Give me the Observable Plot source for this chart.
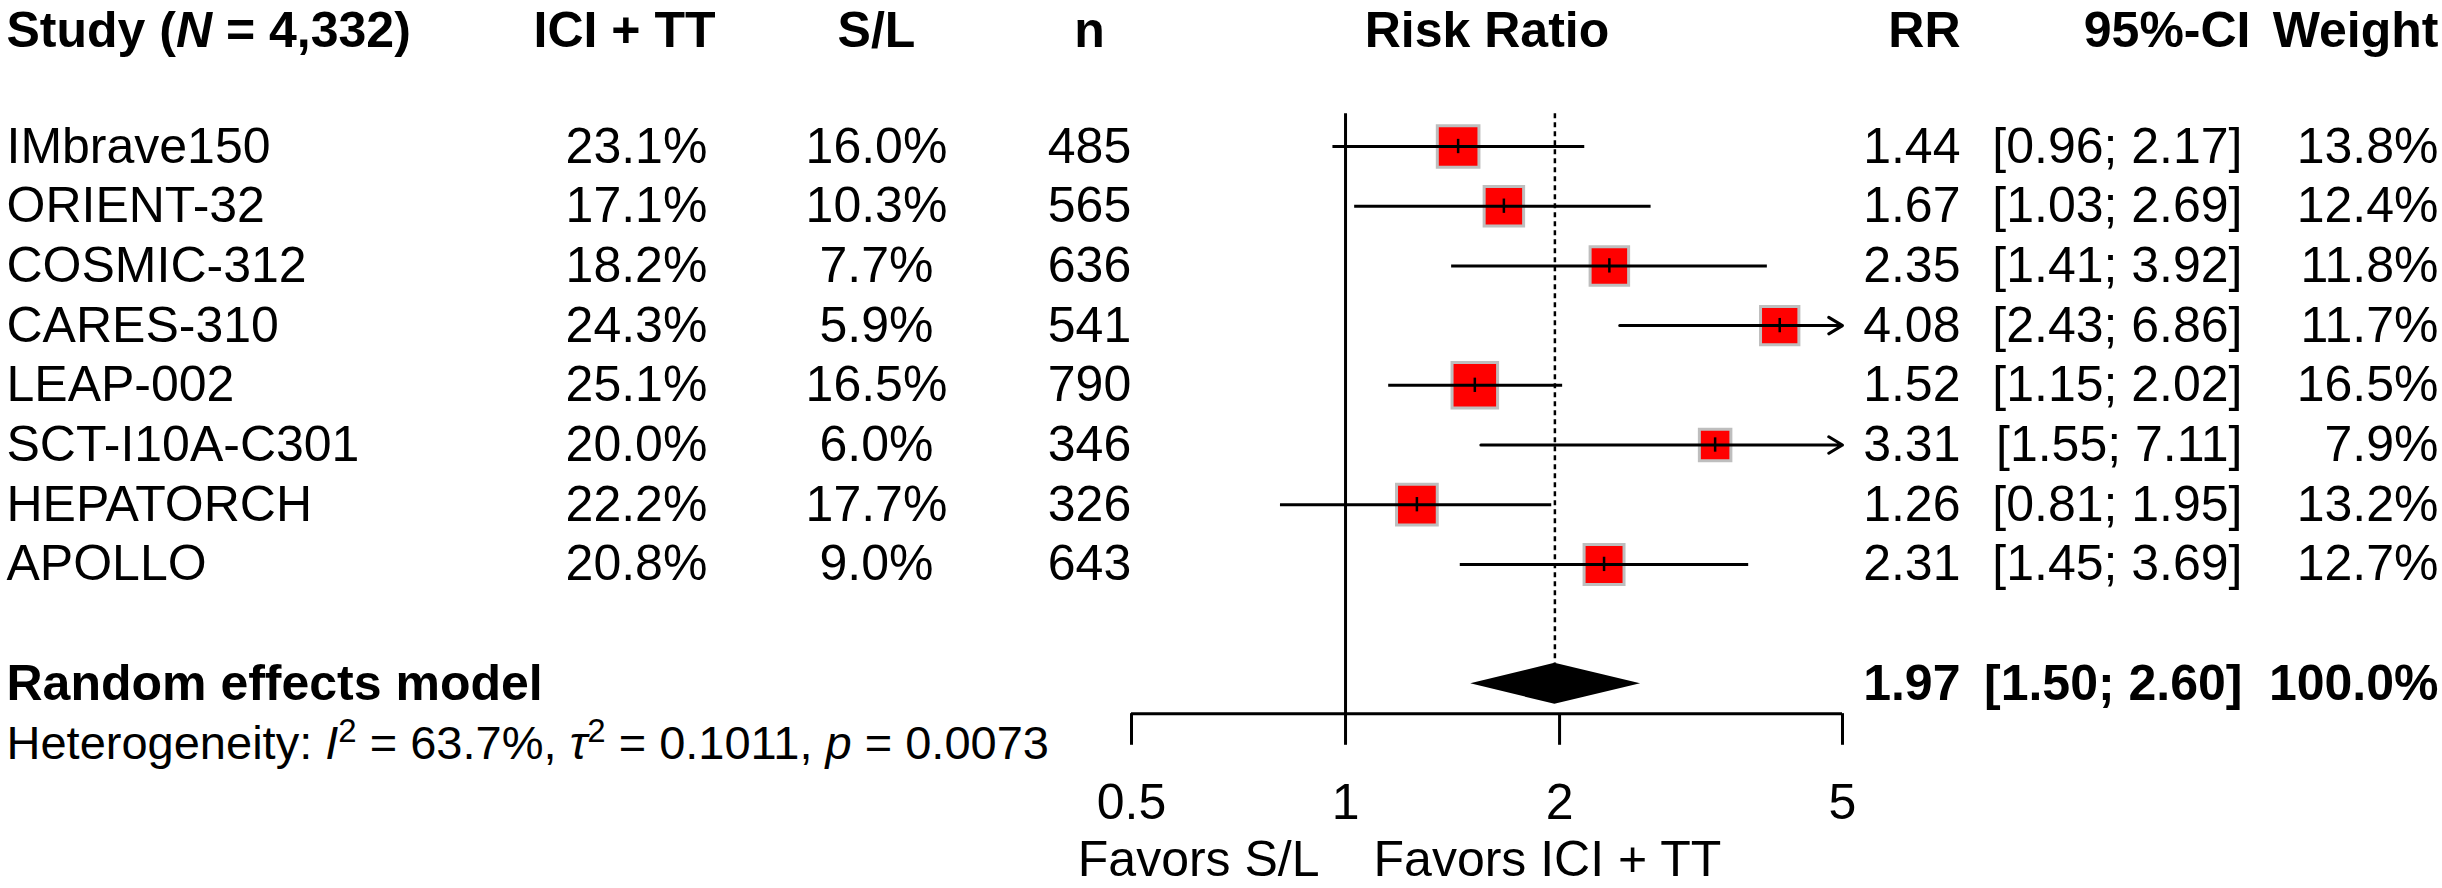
<!DOCTYPE html>
<html><head><meta charset="utf-8">
<script src="https://cdn.jsdelivr.net/npm/d3@7"></script>
<script src="https://cdn.jsdelivr.net/npm/@observablehq/plot@0.6"></script>
<style>html,body{margin:0;padding:0;background:#fff;} #chart svg{display:block;}</style>
</head><body><div id="chart"></div>
<script>
// ---------- data ----------
const studies   = ["IMbrave150","ORIENT-32","COSMIC-312","CARES-310","LEAP-002","SCT-I10A-C301","HEPATORCH","APOLLO"];
const iciPct    = [23.1,17.1,18.2,24.3,25.1,20.0,22.2,20.8];
const slPct     = [16.0,10.3,7.7,5.9,16.5,6.0,17.7,9.0];
const nPatients = [485,565,636,541,790,346,326,643];
const rrValues  = [1.44,1.67,2.35,4.08,1.52,3.31,1.26,2.31];
const ciLower   = [0.96,1.03,1.41,2.43,1.15,1.55,0.81,1.45];
const ciUpper   = [2.17,2.69,3.92,6.86,2.02,7.11,1.95,3.69];
const weights   = [13.8,12.4,11.8,11.7,16.5,7.9,13.2,12.7];

const pooledLabel = "Random effects model";
const pooledRR = 1.97, pooledLower = 1.50, pooledUpper = 2.60, pooledWeight = 100.0;
const totalN = 4332;
const hetI2 = 63.7, hetTau2 = 0.1011, hetP = 0.0073;

const headers = ["Study (N = 4,332)","ICI + TT","S/L","n","Risk Ratio","RR","95%-CI","Weight"];
const axisTicks = [0.5, 1, 2, 5];
const xLimits = [0.5, 5];
const favorsLabels = ["Favors S/L", "Favors ICI + TT"];

// ---------- layout (rows / pixel columns) ----------
const ROW_H = 59.7, ROW0 = 26.6, NROWS = 14;
const HEADER_ROW = 0.06, FIRST_STUDY_ROW = 2, POOLED_ROW = 11, HET_ROW = 12, AXIS_ROW = 11.5, TICKLAB_ROW = 13, FAVORS_ROW = 13.95;
const REF_TOP = 1.45, TICK_LEN = 0.53, DIAMOND_H = 0.343, EST_TICK = 0.12;
const COL = {study: 6, ici: 636, sl: 876, n: 1089, rr: 1960, ci: 2242, ciHead: 2250, wt: 2438, iciHead: 624};
const FS = 50, FS_HET = 47;

const rows = studies.map((s, i) => ({
  study: s, ici: iciPct[i], sl: slPct[i], n: nPatients[i],
  rr: rrValues[i], lo: ciLower[i], hi: ciUpper[i], w: weights[i], row: FIRST_STUDY_ROW + i
}));
const fmtPct = v => v.toFixed(1) + "%";
const fmt2 = v => v.toFixed(2);
const fmtCI = (lo, hi) => `[${fmt2(lo)}; ${fmt2(hi)}]`;

const diamond = [
  {x: pooledLower, ya: POOLED_ROW, yb: POOLED_ROW},
  {x: pooledRR, ya: POOLED_ROW - DIAMOND_H, yb: POOLED_ROW + DIAMOND_H},
  {x: pooledUpper, ya: POOLED_ROW, yb: POOLED_ROW}
];

const colText = (data, opts) => Plot.text(data, {frameAnchor: "left", fontSize: FS, fill: "black", ...opts});
const header = (i, dx, anchor) => colText([headers[i]], {y: () => HEADER_ROW, text: d => d, dx, textAnchor: anchor, fontWeight: "bold"});

const plot = Plot.plot({
  width: 2442, height: 888,
  marginTop: 0, marginBottom: 0, marginLeft: 0, marginRight: 0,
  style: {fontFamily: "Arial, 'Liberation Sans', sans-serif", fontSize: "50px", background: "white", color: "black"},
  x: {type: "log", domain: xLimits, range: [1131, 1842], axis: null},
  y: {domain: [0, NROWS], range: [ROW0, ROW0 + NROWS * ROW_H], axis: null},
  r: {type: "sqrt", domain: [0, d3.max(weights)], range: [0, 25.7]},
  marks: [
    // headers
    header(0, COL.study, "start"),
    header(1, COL.iciHead, "middle"),
    header(2, COL.sl, "middle"),
    header(3, COL.n, "middle"),
    Plot.text([headers[4]], {x: () => Math.sqrt(xLimits[0] * xLimits[1]), y: () => HEADER_ROW, text: d => d, fontSize: FS, fontWeight: "bold", fill: "black"}),
    header(5, COL.rr, "end"),
    header(6, COL.ciHead, "end"),
    header(7, COL.wt, "end"),
    // reference lines
    Plot.ruleX([1], {x: d => d, y1: REF_TOP, y2: AXIS_ROW, stroke: "black", strokeWidth: 3}),
    Plot.ruleX([pooledRR], {x: d => d, y1: REF_TOP, y2: POOLED_ROW - DIAMOND_H, stroke: "black", strokeWidth: 2.5, strokeDasharray: "5,4"}),
    // squares
    Plot.dot(rows, {x: "rr", y: "row", r: "w", symbol: "square", fill: "#FF0000", stroke: "#BEBEBE", strokeWidth: 3}),
    // CI lines
    Plot.ruleY(rows.filter(d => d.hi <= xLimits[1]), {y: "row", x1: "lo", x2: "hi", stroke: "black", strokeWidth: 3}),
    Plot.arrow(rows.filter(d => d.hi > xLimits[1]), {x1: "lo", x2: () => xLimits[1], y1: "row", y2: "row", stroke: "black", strokeWidth: 3, headAngle: 62, headLength: 8}),
    Plot.ruleX(rows, {x: "rr", y1: d => d.row - EST_TICK, y2: d => d.row + EST_TICK, stroke: "black", strokeWidth: 2.5}),
    // diamond
    Plot.areaY(diamond, {x: "x", y1: "ya", y2: "yb", fill: "black", curve: "linear"}),
    // axis
    Plot.ruleY([AXIS_ROW], {y: d => d, x1: xLimits[0], x2: xLimits[1], stroke: "black", strokeWidth: 3}),
    Plot.ruleX(axisTicks, {x: d => d, y1: AXIS_ROW, y2: AXIS_ROW + TICK_LEN, stroke: "black", strokeWidth: 3}),
    Plot.text(axisTicks, {x: d => d, y: () => TICKLAB_ROW, text: d => String(d), fontSize: FS, fill: "black"}),
    Plot.text([favorsLabels[0]], {x: () => 1, y: () => FAVORS_ROW, text: d => d, textAnchor: "end", dx: -26, fontSize: FS, fill: "black"}),
    Plot.text([favorsLabels[1]], {x: () => 1, y: () => FAVORS_ROW, text: d => d, textAnchor: "start", dx: 28, fontSize: FS, fill: "black"}),
    // study columns
    colText(rows, {y: "row", text: "study", dx: COL.study, textAnchor: "start"}),
    colText(rows, {y: "row", text: d => fmtPct(d.ici), dx: COL.ici, textAnchor: "middle"}),
    colText(rows, {y: "row", text: d => fmtPct(d.sl), dx: COL.sl, textAnchor: "middle"}),
    colText(rows, {y: "row", text: d => String(d.n), dx: COL.n, textAnchor: "middle"}),
    colText(rows, {y: "row", text: d => fmt2(d.rr), dx: COL.rr, textAnchor: "end"}),
    colText(rows, {y: "row", text: d => fmtCI(d.lo, d.hi), dx: COL.ci, textAnchor: "end"}),
    colText(rows, {y: "row", text: d => fmtPct(d.w), dx: COL.wt, textAnchor: "end"}),
    // pooled row
    colText([pooledLabel], {y: () => POOLED_ROW, text: d => d, dx: COL.study, textAnchor: "start", fontWeight: "bold"}),
    colText([pooledRR], {y: () => POOLED_ROW, text: d => fmt2(d), dx: COL.rr, textAnchor: "end", fontWeight: "bold"}),
    colText([[pooledLower, pooledUpper]], {y: () => POOLED_ROW, text: d => fmtCI(d[0], d[1]), dx: COL.ci, textAnchor: "end", fontWeight: "bold"}),
    colText([pooledWeight], {y: () => POOLED_ROW, text: d => fmtPct(d), dx: COL.wt, textAnchor: "end", fontWeight: "bold"}),
    // heterogeneity
    colText(["HET"], {y: () => HET_ROW, text: d => d, dx: COL.study, textAnchor: "start", fontSize: FS_HET})
  ]
});

// rich text: italics and superscripts
const fmtN = d3.format(",")(totalN);
plot.querySelectorAll("text").forEach(t => {
  const s = t.textContent;
  if (s === headers[0]) {
    t.innerHTML = `Study (<tspan font-style="italic">N</tspan> = ${fmtN})`;
  } else if (s === "HET") {
    t.innerHTML = `Heterogeneity: <tspan font-style="italic">I</tspan><tspan dy="-17" font-size="33">2</tspan><tspan dy="17"> = ${hetI2.toFixed(1)}%, </tspan><tspan font-style="italic">τ</tspan><tspan dy="-17" font-size="33">2</tspan><tspan dy="17"> = ${hetTau2.toFixed(4)}, </tspan><tspan font-style="italic">p</tspan> = ${hetP.toFixed(4)}`;
  }
});
document.getElementById("chart").appendChild(plot);
</script>
</body></html>
